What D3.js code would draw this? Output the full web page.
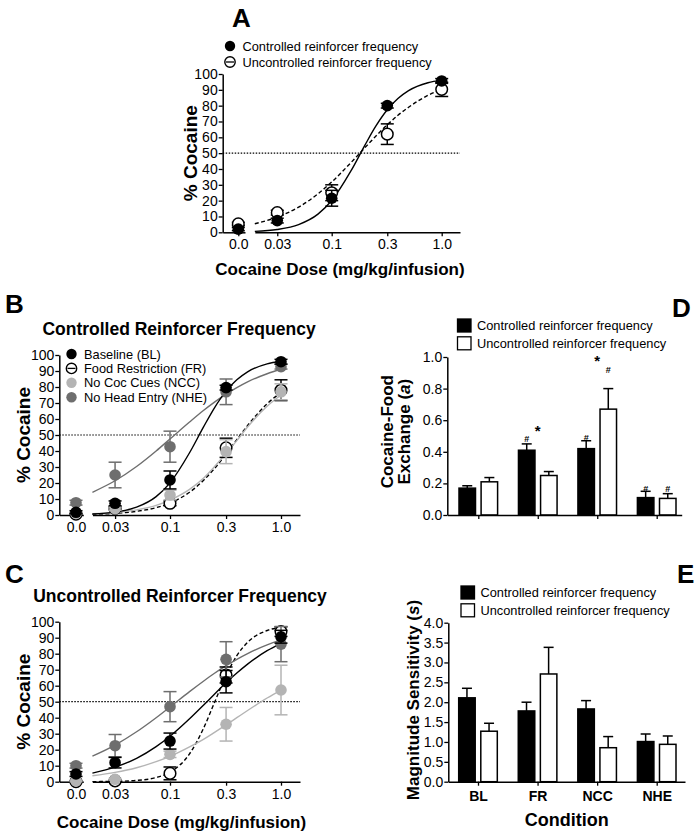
<!DOCTYPE html>
<html><head><meta charset="utf-8">
<script src="https://cdn.jsdelivr.net/npm/d3@7"></script>
<style>
body{margin:0;background:#fff;}
svg{display:block;font-family:"Liberation Sans",Arial,Helvetica,sans-serif;}
</style></head><body>
<svg id="fig" width="700" height="835"></svg>
<script>
// ---------------- DATA ----------------
const doseLabels = ["0.0", "0.03", "0.1", "0.3", "1.0"];
const doses = [0.032, 0.1, 0.32, 1.0];
const pctTicks = [0, 10, 20, 30, 40, 50, 60, 70, 80, 90, 100];
const fitDoses = [0.02, 0.032, 0.05, 0.075, 0.1, 0.15, 0.2, 0.25, 0.32, 0.4, 0.5, 0.75, 1.0];

// Panel A (means at 0.0, 0.03, 0.1, 0.3, 1.0)
const A_ctrlMean = [2, 7.4, 21.5, 80, 95.6];
const A_ctrlSem = [1, 1.5, 5, 1.5, 1.5];
const A_ctrlFit = [0.6, 1.8, 4.9, 11.5, 20.1, 38.9, 54.9, 66.7, 77.4, 84.5, 89.5, 94.5, 96.1];
const A_uncMean = [5.3, 12.4, 25, 62, 90.3];
const A_uncSem = [1, 1.5, 5, 6.5, 4.5];
const A_uncFit = [5.4, 9.6, 15.9, 24.3, 31.8, 44.1, 53.4, 60.5, 67.9, 73.9, 79.0, 86.5, 90.3];

// Panel B: Controlled reinforcer frequency
const B_BLMean = [1.7, 7.3, 21.9, 79.6, 95.8];
const B_BLSem = [1, 1.5, 5.6, 1.5, 1.5];
const B_BLFit = [0.6, 1.8, 4.9, 11.5, 20.1, 38.9, 54.9, 66.7, 77.4, 84.5, 89.5, 94.5, 96.1];
const B_FRMean = [0.5, 4.2, 7.3, 42, 78];
const B_FRSem = [0.5, 1, 1.5, 6, 6.5];
const B_FRFit = [0.45, 1.0, 2.3, 4.6, 7.5, 14.2, 21.6, 28.8, 38.1, 47.1, 55.9, 69.5, 76.6];
const B_NCCMean = [1, 4, 12.5, 39.6, 77];
const B_NCCSem = [0.5, 1, 3, 7.5, 5];
const B_NCCFit = [0.8, 1.6, 3.2, 6.0, 9.3, 16.0, 23.0, 30.0, 38.5, 46.5, 55.0, 68.0, 75.0];
const B_NHEMean = [7.7, 25, 42.7, 77, 92.7];
const B_NHESem = [1.5, 8, 9.7, 8, 1.5];
const B_NHEFit = [14.2, 21.4, 30.3, 40.0, 47.5, 58.1, 65.3, 70.4, 75.5, 79.6, 83.2, 88.3, 91.1];

// Panel C: Uncontrolled reinforcer frequency
const C_BLMean = [4.8, 11.9, 25.4, 62.5, 90.6];
const C_BLSem = [1.5, 3.3, 5, 7, 4];
const C_BLFit = [5.4, 9.1, 14.6, 21.9, 28.4, 39.3, 47.8, 54.5, 61.8, 67.9, 73.5, 81.9, 86.5];
const C_FRMean = [0, 0.5, 5.2, 66.7, 93.8];
const C_FRSem = [0.5, 0.5, 4, 5, 3];
const C_FRFit = [0.05, 0.2, 0.8, 2.6, 5.9, 17.4, 33.2, 49.0, 66.4, 78.8, 87.1, 94.5, 96.5];
const C_NCCMean = [0.5, 1.5, 17.1, 35.9, 57.3];
const C_NCCSem = [0.5, 0.5, 2, 10.5, 15.5];
const C_NCCFit = [3.7, 5.8, 8.7, 12.5, 15.8, 21.7, 26.5, 30.7, 35.5, 40.0, 44.5, 52.3, 57.3];
const C_NHEMean = [10, 22.5, 46.9, 76.5, 86];
const C_NHESem = [1.5, 7, 9.4, 11, 11];
const C_NHEFit = [16.0, 22.9, 31.2, 40.0, 46.7, 56.3, 62.8, 67.6, 72.5, 76.5, 80.1, 85.5, 88.6];

// Panels D & E
const conditions = ["BL", "FR", "NCC", "NHE"];
const D_ctrl = [0.17, 0.41, 0.42, 0.11];
const D_ctrlSem = [0.015, 0.04, 0.05, 0.04];
const D_unc = [0.21, 0.25, 0.67, 0.105];
const D_uncSem = [0.027, 0.025, 0.13, 0.03];
const D_ticks = [0.0, 0.2, 0.4, 0.6, 0.8, 1.0];
const D_hashCtrl = [null, 0.48, 0.49, 0.165];
const D_hashUnc = [null, null, 0.92, 0.165];
const D_star = [null, 0.56, 1.0, null];
const E_ctrl = [2.11, 1.78, 1.83, 1.01];
const E_ctrlSem = [0.24, 0.22, 0.21, 0.19];
const E_unc = [1.27, 2.71, 0.855, 0.94];
const E_uncSem = [0.2, 0.67, 0.28, 0.21];
const E_ticks = [0, 0.5, 1.0, 1.5, 2.0, 2.5, 3.0, 3.5, 4.0];

const legendAB = ["Controlled reinforcer frequency", "Uncontrolled reinforcer frequency"];
const legendBC = ["Baseline (BL)", "Food Restriction (FR)", "No Coc Cues (NCC)", "No Head Entry (NHE)"];

// ---------------- STYLES ----------------
const LIGHT = "#b4b4b4", DARK = "#6e6e6e";
const stFilled = {fill: "#000", stroke: "#000", line: "#000", dash: null, open: false};
const stOpen = {fill: "#fff", stroke: "#000", line: "#000", dash: "4,2.5", open: true};
const stLight = {fill: LIGHT, stroke: LIGHT, line: LIGHT, dash: null, open: false};
const stDark = {fill: DARK, stroke: DARK, line: DARK, dash: null, open: false};

const svg = d3.select("#fig");
const FS_TICK = 14, FS_LEG = 12.8, FS_LAB = 17;

function styleAxis(sel, bold) {
  sel.select(".domain").attr("stroke", "#000").attr("stroke-width", 1.5);
  sel.selectAll(".tick line").attr("stroke", "#000").attr("stroke-width", 1.3);
  sel.selectAll(".tick text").attr("fill", "#000").style("font-size", FS_TICK + "px")
     .style("font-weight", bold ? "bold" : "normal");
  sel.attr("font-family", null);
}

function dosePanel(P) {
  const g = svg.append("g");
  const y = d3.scaleLinear().domain([0, 100]).range([P.y0, P.y100]);
  const xl = d3.scaleLog().domain([0.1, 1]).range([P.p01, P.p1]);
  const xr = xl.copy().domain([fitDoses[0], xl.invert(P.rightEnd)]).range([xl(fitDoses[0]), P.rightEnd]);
  const xz = d3.scaleLinear().domain([-1, 0, 1]).range([P.axisX, P.zeroX, P.leftEnd]);
  const xPos = i => i === 0 ? xz(0) : xr(doses[i - 1]);

  // 50% reference
  g.append("line").attr("x1", P.axisX).attr("x2", P.rightEnd).attr("y1", y(50)).attr("y2", y(50))
    .attr("stroke", "#000").attr("stroke-width", 1.2).attr("stroke-dasharray", "1.5,1.5");

  const ya = g.append("g").attr("transform", `translate(${P.axisX},0)`)
    .call(d3.axisLeft(y).tickValues(pctTicks).tickSize(4).tickSizeOuter(0).tickPadding(1));
  styleAxis(ya);
  const xa1 = g.append("g").attr("transform", `translate(0,${P.y0})`)
    .call(d3.axisBottom(xz).tickValues([0]).tickFormat(() => doseLabels[0]).tickSize(4).tickSizeOuter(0).tickPadding(3));
  styleAxis(xa1);
  const xa2 = g.append("g").attr("transform", `translate(0,${P.y0})`)
    .call(d3.axisBottom(xr).tickValues(doses).tickFormat((d, i) => doseLabels[i + 1]).tickSize(4).tickSizeOuter(0).tickPadding(3));
  styleAxis(xa2);

  // fitted curves
  const line = d3.line().x(d => xr(d[0])).y(d => y(d[1])).curve(d3.curveMonotoneX);
  P.series.forEach(s => {
    g.append("path").datum(fitDoses.map((d, i) => [d, s.fit[i]])).attr("d", line)
      .attr("fill", "none").attr("stroke", s.style.line).attr("stroke-width", 1.4)
      .attr("stroke-dasharray", s.style.dash);
  });
  // error bars + points
  P.series.forEach(s => {
    const eb = g.append("g").attr("stroke", s.style.open ? "#000" : s.style.stroke).attr("stroke-width", 1.5);
    s.mean.forEach((m, i) => {
      const x = xPos(i), e = s.sem[i];
      eb.append("line").attr("x1", x).attr("x2", x).attr("y1", y(m - e)).attr("y2", y(m + e));
      [m - e, m + e].forEach(v => eb.append("line").attr("x1", x - 6.5).attr("x2", x + 6.5).attr("y1", y(v)).attr("y2", y(v)));
    });
    g.append("g").selectAll("circle").data(s.mean).join("circle")
      .attr("cx", (d, i) => xPos(i)).attr("cy", d => y(d)).attr("r", 5.8)
      .attr("fill", s.style.fill).attr("stroke", s.style.stroke).attr("stroke-width", s.style.open ? 1.5 : 0);
  });

  // y label
  g.append("text").attr("transform", `translate(${P.yLabelX},${y(50)}) rotate(-90)`)
    .attr("text-anchor", "middle").attr("dy", "0.35em").style("font-size", "19px")
    .style("font-weight", "bold").text("% Cocaine");
  if (P.xLabelY) {
    g.append("text").attr("x", P.xLabelX).attr("y", P.xLabelY).attr("text-anchor", "middle")
      .style("font-size", FS_LAB + "px").style("font-weight", "bold").text("Cocaine Dose (mg/kg/infusion)");
  }
  if (P.title) {
    g.append("text").attr("x", P.titleX).attr("y", P.titleY).attr("text-anchor", "middle")
      .style("font-size", "17.5px").style("font-weight", "bold").text(P.title);
  }
  // legend
  if (P.legend) {
    P.legend.labels.forEach((lab, i) => {
      const st = P.legend.styles[i], ly = P.legend.y + i * P.legend.dy;
      g.append("circle").attr("cx", P.legend.x).attr("cy", ly).attr("r", 5.2)
        .attr("fill", st.fill).attr("stroke", st.stroke).attr("stroke-width", st.open ? 1.4 : 0);
      if (st.open) g.append("line").attr("x1", P.legend.x - 4).attr("x2", P.legend.x + 4)
        .attr("y1", ly).attr("y2", ly).attr("stroke", "#000").attr("stroke-width", 1.3);
      g.append("text").attr("x", P.legend.x + 12.5).attr("y", ly).attr("dy", "0.36em")
        .style("font-size", FS_LEG + "px").text(lab);
    });
  }
}

function barPanel(P) {
  const g = svg.append("g");
  const y = d3.scaleLinear().domain([0, P.ticks[P.ticks.length - 1]]).range([P.y0, P.yTop]);
  const xi = d3.scaleLinear().domain([0, 3]).range([P.c0, P.c3]);
  const xa = xi.copy().domain([xi.invert(P.axisX), xi.invert(P.rightEnd)]).range([P.axisX, P.rightEnd]);
  const ya = g.append("g").attr("transform", `translate(${P.axisX},0)`)
    .call(d3.axisLeft(y).tickValues(P.ticks).tickFormat(d3.format(".1f")).tickSize(4).tickSizeOuter(0).tickPadding(1));
  styleAxis(ya);
  const bw = 16.5, gap = 5.6;
  const groups = [[P.ctrl, P.ctrlSem, "#000", -1], [P.unc, P.uncSem, "#fff", 1]];
  groups.forEach(([vals, sems, fill, side]) => {
    vals.forEach((v, i) => {
      const xc = xi(i) + side * (gap / 2 + bw / 2);
      const top = v + sems[i];
      g.append("line").attr("x1", xc).attr("x2", xc).attr("y1", y(v)).attr("y2", y(top)).attr("stroke", "#000").attr("stroke-width", 1.5);
      g.append("line").attr("x1", xc - 5).attr("x2", xc + 5).attr("y1", y(top)).attr("y2", y(top)).attr("stroke", "#000").attr("stroke-width", 1.5);
      g.append("rect").attr("x", xc - bw / 2).attr("width", bw).attr("y", y(v)).attr("height", y(0) - y(v))
        .attr("fill", fill).attr("stroke", "#000").attr("stroke-width", 1.5);
    });
  });
  const xaxis = g.append("g").attr("transform", `translate(0,${P.y0})`)
    .call(d3.axisBottom(xa).tickValues([0, 1, 2, 3]).tickFormat(d => P.showCats ? conditions[d] : "").tickSize(4).tickSizeOuter(0).tickPadding(5));
  styleAxis(xaxis, true);
  // annotations
  if (P.hashCtrl) {
    [[P.hashCtrl, -1], [P.hashUnc, 1]].forEach(([arr, side]) => arr.forEach((v, i) => {
      if (v == null) return;
      g.append("text").attr("x", xi(i) + side * (gap / 2 + bw / 2)).attr("y", y(v)).attr("dy", "0.35em")
        .attr("text-anchor", "middle").style("font-size", "9px").style("font-weight", "bold").text("#");
    }));
    P.star.forEach((v, i) => {
      if (v == null) return;
      g.append("text").attr("x", xi(i)).attr("y", y(v)).attr("dy", "0.62em")
        .attr("text-anchor", "middle").style("font-size", "15px").style("font-weight", "bold").text("*");
    });
  }
  // legend
  legendAB.forEach((lab, i) => {
    const ly = P.legY + i * P.legDy;
    g.append("rect").attr("x", P.legX).attr("y", ly - 6.5).attr("width", 13.5).attr("height", 13)
      .attr("fill", i === 0 ? "#000" : "#fff").attr("stroke", "#000").attr("stroke-width", 1.3);
    g.append("text").attr("x", P.legX + 19.5).attr("y", ly).attr("dy", "0.36em")
      .style("font-size", FS_LEG + "px").text(lab);
  });
  // y label
  const yl = g.append("text").attr("transform", `translate(0,${P.yLabelY}) rotate(-90)`)
    .attr("text-anchor", "middle").style("font-size", FS_LAB + "px").style("font-weight", "bold");
  P.yLabel.forEach((ln, k) => {
    const t = yl.append("tspan").attr("x", 0).attr("y", P.yLabelXs[k]).attr("dy", "0.35em");
    ln.forEach(part => t.append("tspan").style("font-style", part[1] ? "italic" : "normal").text(part[0]));
  });
  if (P.xLabel) {
    g.append("text").attr("x", P.xLabelX).attr("y", P.xLabelY).attr("text-anchor", "middle")
      .style("font-size", "18px").style("font-weight", "bold").text(P.xLabel);
  }
}

// ---------------- PANELS ----------------
dosePanel({
  axisX: 222.7, y0: 232.3, y100: 74, zeroX: 238.3, leftEnd: 245, p01: 331.7, p1: 441.7, rightEnd: 460,
  series: [
    {mean: A_uncMean, sem: A_uncSem, fit: A_uncFit, style: stOpen},
    {mean: A_ctrlMean, sem: A_ctrlSem, fit: A_ctrlFit, style: stFilled}
  ],
  yLabelX: 190, xLabelX: 340, xLabelY: 275,
  legend: {labels: legendAB, styles: [stFilled, stOpen], x: 230, y: 46, dy: 16}
});
dosePanel({
  axisX: 59.3, y0: 515, y100: 355, zeroX: 76, leftEnd: 83.3, p01: 170, p1: 281, rightEnd: 300,
  series: [
    {mean: B_FRMean, sem: B_FRSem, fit: B_FRFit, style: stOpen},
    {mean: B_NCCMean, sem: B_NCCSem, fit: B_NCCFit, style: stLight},
    {mean: B_NHEMean, sem: B_NHESem, fit: B_NHEFit, style: stDark},
    {mean: B_BLMean, sem: B_BLSem, fit: B_BLFit, style: stFilled}
  ],
  yLabelX: 23, title: "Controlled Reinforcer Frequency", titleX: 179, titleY: 335,
  legend: {labels: legendBC, styles: [stFilled, stOpen, stLight, stDark], x: 71.5, y: 354, dy: 14.4}
});
dosePanel({
  axisX: 59.3, y0: 781.7, y100: 621.7, zeroX: 76, leftEnd: 83.3, p01: 170, p1: 281, rightEnd: 300,
  series: [
    {mean: C_FRMean, sem: C_FRSem, fit: C_FRFit, style: stOpen},
    {mean: C_NCCMean, sem: C_NCCSem, fit: C_NCCFit, style: stLight},
    {mean: C_NHEMean, sem: C_NHESem, fit: C_NHEFit, style: stDark},
    {mean: C_BLMean, sem: C_BLSem, fit: C_BLFit, style: stFilled}
  ],
  yLabelX: 23, title: "Uncontrolled Reinforcer Frequency", titleX: 180, titleY: 601.7,
  xLabelX: 181.5, xLabelY: 828
});
barPanel({
  axisX: 447.3, rightEnd: 681.7, y0: 515, yTop: 357, ticks: D_ticks, c0: 478.3, c3: 656.7,
  ctrl: D_ctrl, ctrlSem: D_ctrlSem, unc: D_unc, uncSem: D_uncSem, showCats: false,
  hashCtrl: D_hashCtrl, hashUnc: D_hashUnc, star: D_star,
  legX: 457.5, legY: 325.5, legDy: 17.8,
  yLabel: [[["Cocaine-Food", false]], [["Exchange (", false], ["a", true], [")", false]]],
  yLabelXs: [386.7, 404.3], yLabelY: 431.7
});
barPanel({
  axisX: 448.3, rightEnd: 685, y0: 781.7, yTop: 622.7, ticks: E_ticks, c0: 478, c3: 656.7,
  ctrl: E_ctrl, ctrlSem: E_ctrlSem, unc: E_unc, uncSem: E_uncSem, showCats: true,
  legX: 461, legY: 592.5, legDy: 17.8,
  yLabel: [[["Magnitude Sensitivity (", false], ["s", true], [")", false]]],
  yLabelXs: [412.7], yLabelY: 700,
  xLabel: "Condition", xLabelX: 566.7, xLabelY: 826
});

// panel letters
[["A", 232, 27], ["B", 5, 313], ["C", 5, 583], ["D", 672, 317], ["E", 677, 583]].forEach(([t, x, yy]) => {
  svg.append("text").attr("x", x).attr("y", yy).style("font-size", "26px").style("font-weight", "bold").text(t);
});
</script>
</body></html>
